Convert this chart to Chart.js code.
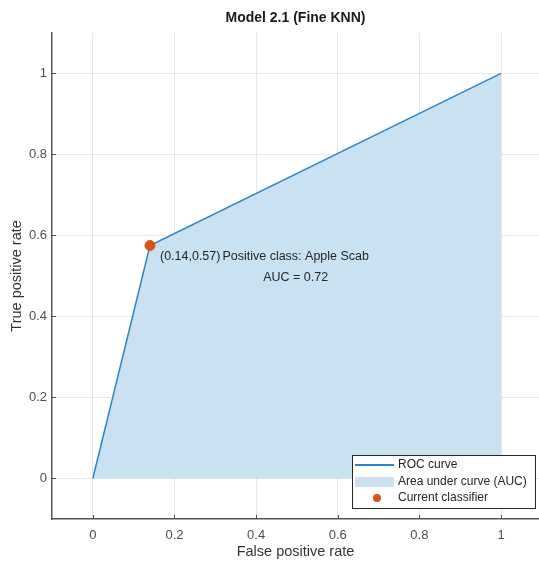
<!DOCTYPE html>
<html>
<head>
<meta charset="utf-8">
<script src="https://cdn.jsdelivr.net/npm/chart.js@4.4.1/dist/chart.umd.min.js"></script>
<style>
  html, body { margin: 0; padding: 0; background: #fff; }
  #wrap { width: 539px; height: 563px; }
</style>
</head>
<body>
<div id="wrap"><canvas id="roc"></canvas></div>
<script>
// ROC points
const fpr = [0, 0.14, 1];
const tpr = [0, 0.575, 1];
const opPoint = [0.14, 0.575];
const tickVals = [0, 0.2, 0.4, 0.6, 0.8, 1];
const legendLabels = ["ROC curve", "Area under curve (AUC)", "Current classifier"];

const FONT = "'Liberation Sans', Arial, Helvetica, sans-serif";
const lineColor = "rgb(44, 134, 204)";
const areaColor = "rgb(201, 225, 240)";
const dotColor = "rgb(217, 83, 25)";

const rocPts = fpr.map((x, i) => ({ x: x, y: tpr[i] }));

// text inside the plot + inward ticks + legend box
const extras = {
  id: "extras",
  afterDatasetsDraw(chart) {
    const c = chart.ctx;
    const xs = chart.scales.x, ys = chart.scales.y;
    const a = chart.chartArea;
    c.save();

    // small inward tick marks
    c.strokeStyle = "#4d4d4d";
    c.lineWidth = 1;
    tickVals.forEach(v => {
      const px = Math.round(xs.getPixelForValue(v)) + 0.5;
      c.beginPath(); c.moveTo(px, a.bottom); c.lineTo(px, a.bottom - 4); c.stroke();
      const py = Math.round(ys.getPixelForValue(v)) + 0.5;
      c.beginPath(); c.moveTo(a.left, py); c.lineTo(a.left + 4, py); c.stroke();
    });

    // annotations
    c.fillStyle = "#262626";
    c.font = "12.5px " + FONT;
    c.textBaseline = "middle";
    c.textAlign = "left";
    const opx = xs.getPixelForValue(opPoint[0]);
    const opy = ys.getPixelForValue(opPoint[1]);
    c.fillText("(" + opPoint[0].toFixed(2) + "," + "0.57" + ")", opx + 10, opy + 11);
    c.textAlign = "center";
    c.fillText("Positive class: Apple Scab", xs.getPixelForValue(0.497), ys.getPixelForValue(0.548));
    c.fillText("AUC = 0.72", xs.getPixelForValue(0.497), ys.getPixelForValue(0.497));

    // legend box
    const bx = 352, by = 455, bw = 183, bh = 53;
    c.fillStyle = "#fff";
    c.fillRect(bx, by, bw, bh);
    c.strokeStyle = "#262626";
    c.lineWidth = 1;
    c.strokeRect(bx + 0.5, by + 0.5, bw, bh);
    const rows = [465, 482, 498];
    c.strokeStyle = lineColor;
    c.lineWidth = 2;
    c.beginPath(); c.moveTo(355, rows[0]); c.lineTo(394, rows[0]); c.stroke();
    c.fillStyle = areaColor;
    c.fillRect(355, rows[1] - 5, 39, 10);
    c.fillStyle = dotColor;
    c.beginPath(); c.arc(377, rows[2], 4, 0, Math.PI * 2); c.fill();
    c.fillStyle = "#262626";
    c.textAlign = "left";
    c.font = "12px " + FONT;
    legendLabels.forEach((t, i) => c.fillText(t, 398, rows[i]));

    c.restore();
  }
};

new Chart(document.getElementById("roc"), {
  type: "scatter",
  data: {
    datasets: [
      {
        label: legendLabels[1],
        data: rocPts,
        showLine: true,
        borderWidth: 0,
        borderColor: "rgba(0,0,0,0)",
        backgroundColor: areaColor,
        fill: "origin",
        pointRadius: 0,
        order: 3,
      },
      {
        label: legendLabels[0],
        data: rocPts,
        showLine: true,
        borderColor: lineColor,
        borderWidth: 1.5,
        pointRadius: 0,
        fill: false,
        order: 2,
      },
      {
        label: legendLabels[2],
        data: [{ x: opPoint[0], y: opPoint[1] }],
        backgroundColor: dotColor,
        borderColor: dotColor,
        pointRadius: 5,
        order: 1,
      },
    ],
  },
  options: {
    responsive: true,
    maintainAspectRatio: false,
    animation: false,
    layout: { padding: 0, autoPadding: false },
    plugins: {
      legend: { display: false },
      tooltip: { enabled: false },
      title: {
        display: true,
        fullSize: false,
        text: "Model 2.1 (Fine KNN)",
        color: "#1a1a1a",
        font: { family: FONT, size: 14, weight: "bold" },
        padding: { top: 10, bottom: 6 },
      },
    },
    scales: {
      x: {
        type: "linear",
        min: -0.1,
        max: 1.093,
        afterBuildTicks: (s) => { s.ticks = tickVals.map(v => ({ value: v })); },
        afterFit: (s) => { s.height = 44; },
        grid: { color: "rgba(0,0,0,0.09)", tickLength: 0, drawTicks: false },
        border: { color: "#555", width: 1.5 },
        ticks: {
          padding: 9,
          color: "#4d4d4d",
          font: { family: FONT, size: 13 },
          callback: (v) => String(v),
        },
        title: {
          display: true,
          text: "False positive rate",
          color: "#333",
          font: { family: FONT, size: 14.5 },
          padding: { top: 2, bottom: 2 },
        },
      },
      y: {
        type: "linear",
        min: -0.1,
        max: 1.1,
        afterBuildTicks: (s) => { s.ticks = tickVals.map(v => ({ value: v })); },
        afterFit: (s) => { s.width = 52; },
        grid: { color: "rgba(0,0,0,0.09)", tickLength: 0, drawTicks: false },
        border: { color: "#555", width: 1.5 },
        ticks: {
          padding: 5,
          color: "#4d4d4d",
          font: { family: FONT, size: 13 },
          callback: (v) => String(v),
        },
        title: {
          display: true,
          text: "True positive rate",
          color: "#333",
          font: { family: FONT, size: 14.5 },
          padding: { top: 8, bottom: 0 },
        },
      },
    },
  },
  plugins: [extras],
});
</script>
</body>
</html>
